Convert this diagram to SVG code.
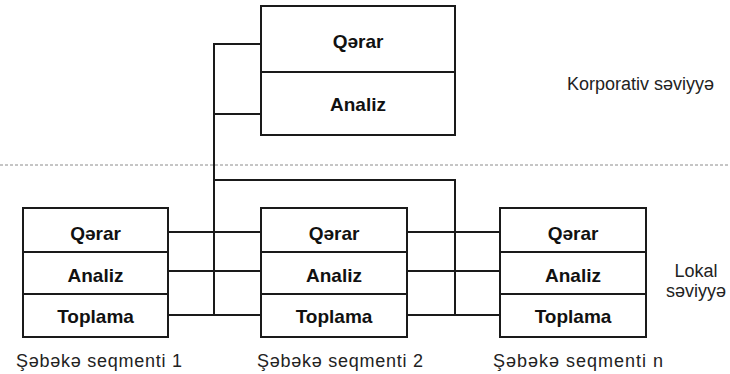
<svg xmlns="http://www.w3.org/2000/svg" width="730" height="374" viewBox="0 0 730 374">
  <style>
    .box { fill: #fff; stroke: #1a1a1a; stroke-width: 2; }
    .div { stroke: #1a1a1a; stroke-width: 2; }
    .wire { fill: none; stroke: #1a1a1a; stroke-width: 2; }
    .lvl { fill: none; stroke: #8c8c8c; stroke-width: 1; stroke-dasharray: 3 2; }
    .cell { font-family: "Liberation Sans", Arial, sans-serif; font-weight: bold; font-size: 19px; fill: #111; text-anchor: middle; }
    .lbl { font-family: "Liberation Sans", Arial, sans-serif; font-size: 18px; fill: #222; }
  </style>

  <!-- level separator -->
  <line class="lvl" x1="0" y1="165" x2="730" y2="165"/>

  <!-- connectors -->
  <g id="connectors">
    <!-- corporate bus -->
    <polyline class="wire" points="261,44 214,44 214,315"/>
    <line class="wire" x1="214" y1="114" x2="261" y2="114"/>
    <polyline class="wire" points="214,180 455,180 455,315"/>
    <!-- segment 1 to segment 2 -->
    <line class="wire" x1="168" y1="232" x2="261" y2="232"/>
    <line class="wire" x1="168" y1="271" x2="261" y2="271"/>
    <line class="wire" x1="168" y1="315" x2="261" y2="315"/>
    <!-- segment 2 to segment n -->
    <line class="wire" x1="407" y1="232" x2="500" y2="232"/>
    <line class="wire" x1="407" y1="271" x2="500" y2="271"/>
    <line class="wire" x1="407" y1="315" x2="500" y2="315"/>
  </g>

  <!-- corporate node -->
  <g id="corporate">
    <rect class="box" x="261" y="6" width="194" height="129"/>
    <line class="div" x1="261" y1="72" x2="455" y2="72"/>
    <text class="cell" x="358" y="48">Qərar</text>
    <text class="cell" x="358" y="111">Analiz</text>
  </g>

  <!-- segment 1 -->
  <g id="segment1">
    <rect class="box" x="23" y="208" width="145" height="129"/>
    <line class="div" x1="23" y1="252" x2="168" y2="252"/>
    <line class="div" x1="23" y1="294" x2="168" y2="294"/>
    <text class="cell" x="95.5" y="240">Qərar</text>
    <text class="cell" x="95.5" y="282">Analiz</text>
    <text class="cell" x="95.5" y="323">Toplama</text>
    <text class="lbl" x="16" y="367" textLength="166" lengthAdjust="spacing">Şəbəkə seqmenti 1</text>
  </g>

  <!-- segment 2 -->
  <g id="segment2">
    <rect class="box" x="261" y="208" width="146" height="129"/>
    <line class="div" x1="261" y1="252" x2="407" y2="252"/>
    <line class="div" x1="261" y1="294" x2="407" y2="294"/>
    <text class="cell" x="334" y="240">Qərar</text>
    <text class="cell" x="334" y="282">Analiz</text>
    <text class="cell" x="334" y="323">Toplama</text>
    <text class="lbl" x="257" y="367" textLength="166" lengthAdjust="spacing">Şəbəkə seqmenti 2</text>
  </g>

  <!-- segment n -->
  <g id="segmentN">
    <rect class="box" x="500" y="208" width="146" height="129"/>
    <line class="div" x1="500" y1="252" x2="646" y2="252"/>
    <line class="div" x1="500" y1="294" x2="646" y2="294"/>
    <text class="cell" x="573" y="240">Qərar</text>
    <text class="cell" x="573" y="282">Analiz</text>
    <text class="cell" x="573" y="323">Toplama</text>
    <text class="lbl" x="493" y="367" textLength="170" lengthAdjust="spacing">Şəbəkə seqmenti n</text>
  </g>

  <!-- level captions -->
  <g id="levels">
    <text class="lbl" x="567" y="90">Korporativ səviyyə</text>
    <text class="lbl" x="696" y="277" text-anchor="middle">Lokal</text>
    <text class="lbl" x="696" y="297" text-anchor="middle">səviyyə</text>
  </g>
</svg>
